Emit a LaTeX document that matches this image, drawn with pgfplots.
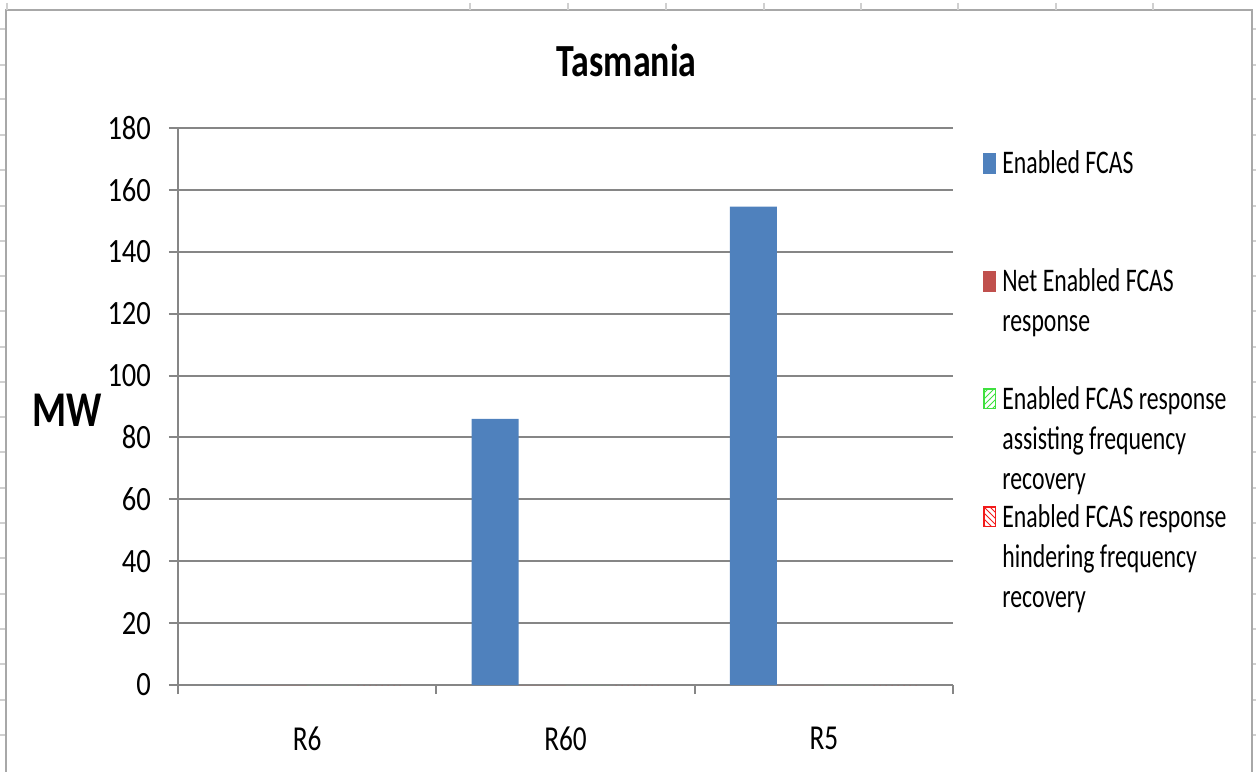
\documentclass[border=0pt]{standalone}
\usepackage{fontspec}
\setmainfont{Carlito}[FakeStretch=0.78]
\newfontfamily\legendfont{Carlito}[FakeStretch=0.72]
\newfontfamily\tickfont{Carlito}[FakeStretch=0.84]
\usepackage{pgfplots}
\pgfplotsset{compat=1.18}
\usetikzlibrary{patterns}

\definecolor{fcasblue}{HTML}{4F81BD}
\definecolor{fcasred}{HTML}{C0504D}
\definecolor{assistgreen}{HTML}{3FE03F}
\definecolor{hinderred}{HTML}{F21B1B}
\definecolor{gridgray}{HTML}{868686}
\definecolor{sheetgray}{HTML}{A8A8A8}
\definecolor{celltick}{HTML}{D0D0D0}

% legend text, wrapped over up to three lines
\newcommand{\legtext}[1]{\parbox[t]{130pt}{\legendfont\fontsize{16.5}{20}\selectfont #1}}

\begin{document}
\begin{tikzpicture}
\useasboundingbox (0,0) rectangle (628pt,385.5pt);

% worksheet frame and cell marks (pixel grid, origin at the top left)
\begin{scope}[x=0.5pt,y=-0.5pt,shift={(0pt,385.5pt)}]
  \draw[sheetgray, line width=1pt] (6,780) -- (6,10) -- (1252,10) -- (1252,780);
  \foreach \cx in {7,470,568,666,764,861,958,1056,1153}
    \draw[celltick, line width=0.6pt] (\cx,3) -- (\cx,10);
  \foreach \ry in {29,65,99,135,170,206,241,276,311,347,382,417,452,488,523,558,594,629,664,700,735}{
    \draw[celltick, line width=0.6pt] (0,\ry) -- (5,\ry);
    \draw[celltick, line width=0.6pt] (1253,\ry) -- (1256,\ry);
  }
\end{scope}

\begin{axis}[
  at={(89pt,43pt)}, anchor=south west,
  scale only axis, width=387.5pt, height=278.5pt,
  xmin=-0.5, xmax=2.5, ymin=0, ymax=180,
  ytick={0,20,...,180},
  xtick={-0.5,0.5,1.5,2.5}, xticklabels={},
  extra x ticks={0,1,2}, extra x tick labels={R6,R60,R5},
  extra x tick style={tick style={draw=none}},
  axis x line*=bottom, axis y line*=left,
  axis line style={gridgray, line width=1pt},
  ymajorgrids, grid style={gridgray, line width=1pt},
  tick style={gridgray, line width=1pt},
  tick align=outside, major tick length=4.5pt,
  ybar=0pt, bar width=23.5pt,
  /pgf/number format/assume math mode=true,
  yticklabel style={font=\tickfont\fontsize{17}{20}\selectfont, xshift=-5.5pt},
  xticklabel style={font=\fontsize{17.5}{20}\selectfont, yshift=-13pt},
  title={\textbf{Tasmania}},
  title style={font=\fontsize{23}{27}\selectfont, at={(axis description cs:0.579,1.100)}, anchor=center},
  ylabel={\textbf{MW}},
  ylabel style={rotate=-90, font=\fontsize{25}{28}\selectfont, at={(axis description cs:-0.143,0.494)}, anchor=center},
  legend cell align=left,
  legend style={at={(axis description cs:1.0387,0.960)}, anchor=north west,
    draw=none, fill=none, inner sep=0pt, row sep=46pt, column sep=3pt,
    nodes={anchor=base west, inner sep=0pt}},
]
\addplot[fill=fcasblue, draw=none,
  legend image code/.code={\fill[fcasblue] (0pt,0pt) rectangle (6.5pt,10.5pt);}]
  coordinates {(0,0) (1,86) (2,154.6)};
\addlegendentry{\legtext{Enabled FCAS}}
\addplot[fill=fcasred, draw=none,
  legend image code/.code={\fill[fcasred] (0pt,0pt) rectangle (6.5pt,10.5pt);}]
  coordinates {(0,0) (1,0) (2,0)};
\addlegendentry{\legtext{Net Enabled FCAS\\response}}
\addplot[pattern=north east lines, pattern color=assistgreen, draw=none,
  legend image code/.code={\draw[assistgreen, line width=0.6pt, pattern=north east lines, pattern color=assistgreen] (0.3pt,0.3pt) rectangle (6.2pt,10.2pt);}]
  coordinates {(0,0) (1,0) (2,0)};
\addlegendentry{\legtext{Enabled FCAS response\\assisting frequency\\recovery}}
\addplot[pattern=north west lines, pattern color=hinderred, draw=none,
  legend image code/.code={\draw[hinderred, line width=0.6pt, pattern=north west lines, pattern color=hinderred] (0.3pt,0.3pt) rectangle (6.2pt,10.2pt);}]
  coordinates {(0,0) (1,0) (2,0)};
\addlegendentry{\legtext{Enabled FCAS response\\hindering frequency\\recovery}}
\end{axis}
\end{tikzpicture}
\end{document}
